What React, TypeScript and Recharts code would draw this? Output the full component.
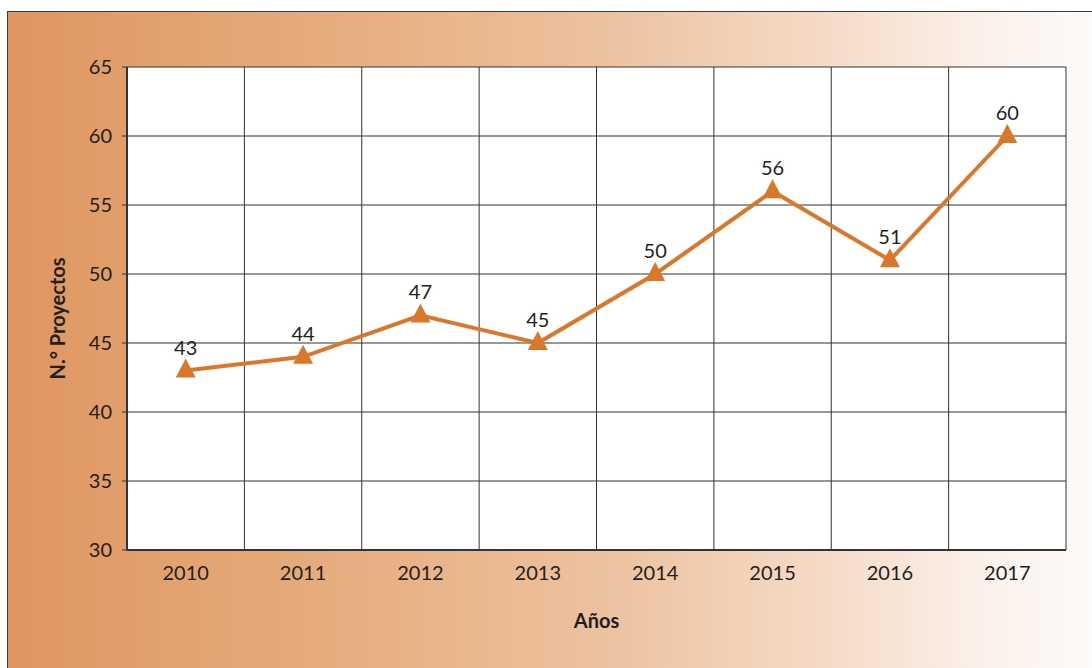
import { LineChart, Line, XAxis, YAxis, CartesianGrid, LabelList, Label } from 'recharts';

const years = ['2010', '2011', '2012', '2013', '2014', '2015', '2016', '2017'];
const projects = [43, 44, 47, 45, 50, 56, 51, 60];
const yTicks = [30, 35, 40, 45, 50, 55, 60, 65];

const data = years.map((year, i) => ({ year, value: projects[i] }));

const INK = '#231F20';
const ORANGE = '#D9782A';
const FONT = 'Lato, "Open Sans", sans-serif';

const Triangle = (props: any) => {
  const { cx, cy } = props;
  if (cx == null || cy == null) return null;
  return <polygon points={`${cx},${cy - 12} ${cx - 10},${cy + 7} ${cx + 10},${cy + 7}`} fill={ORANGE} />;
};

// vertical grid lines sit on the category boundaries, not on the tick centres
const bandEdges = ({ xAxis, offset }: any) => {
  const scale = xAxis?.scale;
  if (typeof scale === 'function' && typeof scale.bandwidth === 'function') {
    const starts = years.map((y) => scale(y));
    return [...starts, starts[starts.length - 1] + scale.bandwidth()];
  }
  const step = offset.width / years.length;
  return Array.from({ length: years.length + 1 }, (_, i) => offset.left + i * step);
};

export default function App() {
  return (
    <div style={{ position: 'absolute', left: 0, top: 0, width: 1092, height: 668, overflow: 'hidden', background: '#fff', fontFamily: FONT }}>
      <div
        style={{
          position: 'absolute',
          left: 7,
          top: 11,
          right: -2,
          bottom: -2,
          borderLeft: '1.5px solid #3a3a3a',
          borderTop: '1.5px solid #3a3a3a',
          background: 'linear-gradient(to right, #DF9661 0%, #E6AD7E 30%, #EDC29F 55%, #F5DAC6 75%, #FBF1EA 90%, #FDFBFA 100%)',
        }}
      />
      <div style={{ position: 'absolute', left: 0, top: 0 }}>
        <LineChart width={1092} height={668} data={data} margin={{ top: 67, right: 26, bottom: 28, left: 0 }}>
          <CartesianGrid stroke="#333" strokeWidth={1} fill="#fff" fillOpacity={1} verticalCoordinatesGenerator={bandEdges} />
          <XAxis
            dataKey="year"
            scale="band"
            tickLine={false}
            axisLine={{ stroke: '#333', strokeWidth: 2 }}
            tick={{ fill: INK, fontSize: 20, fontFamily: FONT }}
            tickSize={6}
            tickMargin={10}
            height={90}
          >
            <Label value="Años" position="insideBottom" offset={12} style={{ fill: INK, fontSize: 20, fontWeight: 700, fontFamily: FONT }} />
          </XAxis>
          <YAxis
            domain={[30, 65]}
            ticks={yTicks}
            width={127}
            tickLine={{ stroke: '#333', strokeWidth: 1 }}
            tickSize={5}
            tickMargin={10}
            axisLine={{ stroke: '#333', strokeWidth: 2 }}
            tick={{ fill: INK, fontSize: 20, fontFamily: FONT }}
          >
            <Label value="N.° Proyectos" angle={-90} position="center" dx={-6} dy={10} style={{ fill: INK, fontSize: 20, fontWeight: 700, fontFamily: FONT }} />
          </YAxis>
          <Line
            type="linear"
            dataKey="value"
            stroke={ORANGE}
            strokeWidth={4}
            dot={<Triangle />}
            activeDot={false}
            isAnimationActive={false}
          >
            <LabelList dataKey="value" position="top" offset={16} style={{ fill: INK, fontSize: 20, fontFamily: FONT }} />
          </Line>
        </LineChart>
      </div>
    </div>
  );
}
